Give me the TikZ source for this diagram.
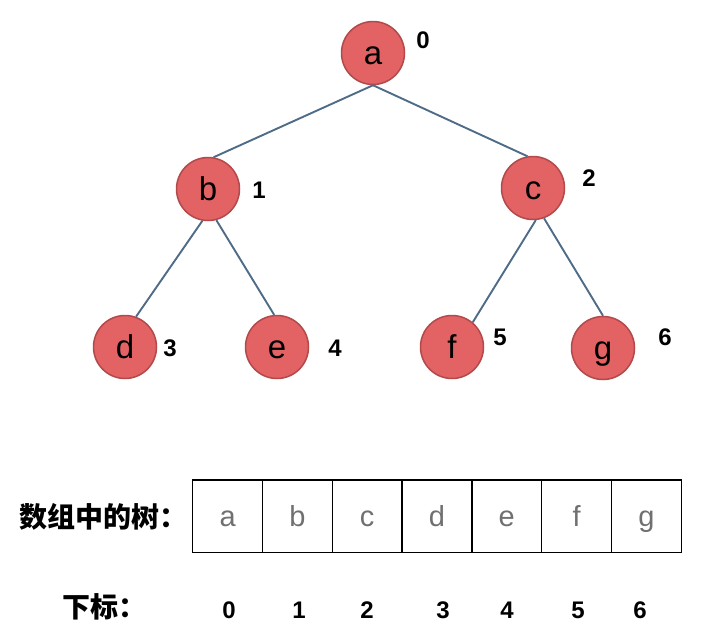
\documentclass[tikz,border=0pt]{standalone}
\usepackage{fontspec}
\setmainfont{Liberation Sans}
\newfontfamily\cjk{Noto Sans CJK SC}
\definecolor{nodered}{RGB}{227,98,100}
\definecolor{noderim}{RGB}{178,73,75}
\definecolor{edgeblue}{RGB}{78,108,135}
\definecolor{cellgray}{RGB}{112,112,112}
\tikzset{
  treenode/.style={circle,draw=noderim,fill=nodered,line width=1.5pt,
    minimum size=63pt,inner sep=0pt,text height=22pt,text depth=0pt,
    font=\fontsize{33}{33}\selectfont},
  idx/.style={font=\fontsize{24}{24}\selectfont\bfseries},
  cell/.style={draw,line width=1.5pt,minimum width=69.8pt,minimum height=72.7pt,
    inner sep=0pt,text height=20.8pt,text depth=0pt,text=cellgray,
    font=\fontsize{29}{29}\selectfont},
  tree/.style={draw=edgeblue,line width=1.9pt}
}
\begin{document}
\begin{tikzpicture}[x=1pt,y=-1pt]
      \useasboundingbox (0,0) rectangle (703,640);
      % the tree
      \node[treenode] at (373,53) (a) {a};
      \node[treenode] at (208,189) (b) {b};
      \node[treenode] at (533,188) (c) {c};
      \node[treenode] at (125,347) (d) {d};
      \node[treenode] at (277,347) (e) {e};
      \node[treenode] at (452,347) (f) {f};
      \node[treenode] at (603,348) (g) {g};
      \node[idx] at (423,40) (ia) {0};
      \node[idx] at (259,190) (ib) {1};
      \node[idx] at (589,178) (ic) {2};
      \node[idx] at (170,348) (id) {3};
      \node[idx] at (335,348) (ie) {4};
      \node[idx] at (500,337) (if) {5};
      \node[idx] at (665,337) (ig) {6};
      \draw[tree] (a.south) -- (b.80);
      \draw[tree] (a.south) -- (c.100);
      \draw[tree] (b.-100) -- (d.70);
      \draw[tree] (b.-75) -- (e.95);
      \draw[tree] (c.-85) -- (f.50);
      \draw[tree] (c.-70) -- (g.north);
      % the array
      \node[font=\cjk\bfseries\fontsize{28}{28}\selectfont,anchor=west] at (16,517) (arr) {数组中的树：};
      \node[cell] at (227.6,516.3) (c0) {a};
      \node[cell] at (297.4,516.3) (c1) {b};
      \node[cell] at (367.2,516.3) (c2) {c};
      \node[cell] at (437.0,516.3) (c3) {d};
      \node[cell] at (506.8,516.3) (c4) {e};
      \node[cell] at (576.6,516.3) (c5) {f};
      \node[cell] at (646.4,516.3) (c6) {g};
      \node[font=\cjk\bfseries\fontsize{28}{28}\selectfont,anchor=west] at (59,607) (sub) {下标：};
      \node[idx] at (229,610) (n0) {0};
      \node[idx] at (299,610) (n1) {1};
      \node[idx] at (367,610) (n2) {2};
      \node[idx] at (443,610) (n3) {3};
      \node[idx] at (507,610) (n4) {4};
      \node[idx] at (578,610) (n5) {5};
      \node[idx] at (640,610) (n6) {6};
\end{tikzpicture}
\end{document}
